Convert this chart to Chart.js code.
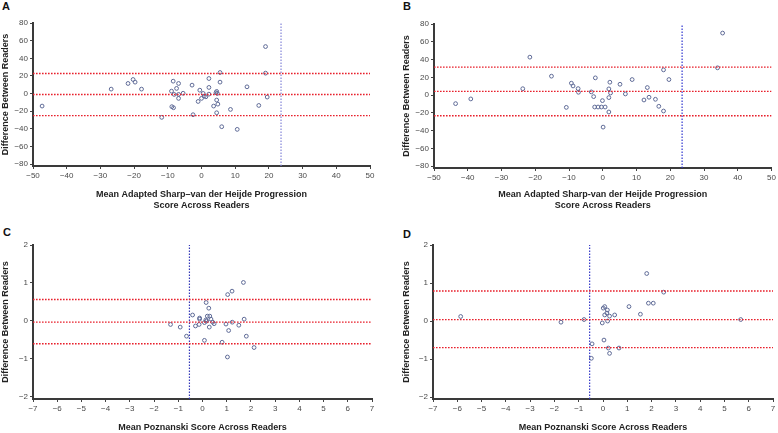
<!DOCTYPE html>
<html>
<head>
<meta charset="utf-8">
<script src="https://cdn.jsdelivr.net/npm/chart.js@4/dist/chart.umd.min.js"></script>
<style>
    body { margin: 0; background: #fff; width: 778px; height: 433px; overflow: hidden; position: relative; }
    .panel { position: absolute; }
    .letter { position: absolute; font: bold 11px "Liberation Sans", Arial, sans-serif; color: #111; }
</style>
</head>
<body>
<div class="letter" style="left:2px; top:0px;">A</div>
<div class="letter" style="left:403px; top:0px;">B</div>
<div class="letter" style="left:3px; top:226px;">C</div>
<div class="letter" style="left:403px; top:228px;">D</div>

<div class="panel" style="left:0; top:0;"><canvas id="chart-a" width="389" height="216"></canvas></div>
<div class="panel" style="left:389px; top:0;"><canvas id="chart-b" width="389" height="216"></canvas></div>
<div class="panel" style="left:0; top:216px;"><canvas id="chart-c" width="389" height="217"></canvas></div>
<div class="panel" style="left:389px; top:216px;"><canvas id="chart-d" width="389" height="217"></canvas></div>

<script>
// Bland-Altman plots: mean score vs difference between readers

// tick labels
const sharpXTicks = [-50, -40, -30, -20, -10, 0, 10, 20, 30, 40, 50];
const sharpYTicks = [-80, -60, -40, -20, 0, 20, 40, 60, 80];
const poznXTicks = [-7, -6, -5, -4, -3, -2, -1, 0, 1, 2, 3, 4, 5, 6, 7];
const poznYTicks = [-2, -1, 0, 1, 2];

// A: adapted Sharp-van der Heijde
const aMean = [-47.3, -26.8, -21.8, -20.3, -19.7, -17.8, -11.8, -8.9, -8.4, -8.8, -8.3, -8.1, -7.4, -6.8, -6.8, -6.8, -5.45,
    -2.8, -2.5, -1.0, -0.5, 0, 0.5, 0.8, 1.3, 2.2, 2.2, 2.2, 3.6, 4.5, 4.3, 4.7, 4.5, 4.85, 4.5, 5.5, 5.5, 6.0, 8.6, 10.6,
    13.5, 17.0, 19.0, 19.0, 19.5];
const aDiff = [-14.1, 5.1, 11.5, 16, 13, 5.1, -26.9, 2.8, 14.1, -14.8, -16, -0.9, 5.9, 11.5, -0.9, -5.4, 0.4,
    9.6, -23.9, -8.9, 3.9, -5.4, 0.2, -2.8, -3.6, 17.1, 7, -0.6, -14.1, 2.5, 1.0, 0.2, -7.3, -11.9, -21.7, 13, 23.9, -37.5, -17.9, -40.5,
    7.7, -13.4, 53.3, 23.2, -3.9];
const aLimits = [22.8, -1.0, -25.0];
const aCutoff = 23.6;

// B: adapted Sharp-van der Heijde, second reader pair
const bMean = [-43.6, -39.1, -23.7, -21.6, -15.2, -10.8, -9.3, -8.8, -7.3, -7.2, -3.4, -2.7, -2.2, -2.4, -1.4, -0.4, 0.7,
    -0.1, 0.1, 1.8, 1.8, 1.8, 2.1, 2.3, 5.1, 6.7, 8.7, 12.2, 13.2, 13.7, 15.6, 16.6, 18.0, 18.0, 19.6, 34.0, 35.5];
const bDiff = [-9.6, -4.3, 7.2, 42.7, 21.3, -13.8, 13.4, 10.3, 7.3, 3.2, 3.6, -1.7, 19.4, -13.4, -13.4, -13.4, -13.4,
    -6.2, -36, -19, -2.8, 7, 14.5, 2.4, 12.2, 1.3, 17.5, -5.5, 8.5, -2.4, -4.7, -12.6, -17.9, 28.4, 17.5, 30.7, 69.8];
const bLimits = [31.4, 4.3, -23.2];
const bCutoff = 23.5;

// C: Poznanski
const cMean = [-1.32, -0.92, -0.66, -0.41, -0.29, -0.14, -0.12, -0.12, 0.08, 0.08, 0.14, 0.15, 0.17, 0.2, 0.26, 0.28,
    0.3, 0.35, 0.42, 0.48, 0.81, 0.97, 1.03, 1.04, 1.08, 1.22, 1.23, 1.50, 1.69, 1.72, 1.81, 2.13];
const cDiff = [-0.10, -0.17, -0.41, 0.15, -0.14, -0.10, 0.07, 0.04, -0.52, -0.05, 0.02, 0.48, -0.01, 0.12, 0.33, -0.17,
    0.12, 0.04, -0.04, -0.08, -0.57, -0.09, -0.96, 0.69, -0.26, 0.78, -0.04, -0.12, 1.01, 0.04, -0.41, -0.71];
const cLimits = [0.56, -0.04, -0.61];
const cCutoff = -0.54;

// D: Poznanski, second reader pair
const dMean = [-5.86, -1.73, -0.78, -0.45, -0.48, -0.03, 0.01, 0.07, 0.07, 0.04, 0.16, 0.18, 0.19, 0.22, 0.27, 0.27,
    0.48, 0.66, 1.07, 1.54, 1.80, 1.87, 2.07, 2.5, 5.67];
const dDiff = [0.12, -0.03, 0.04, -0.6, -0.98, -0.05, 0.34, 0.38, 0.16, -0.5, 0.21, 0.29, 0, -0.71, 0.13, -0.85,
    0.16, -0.71, 0.38, 0.18, 1.25, 0.47, 0.47, 0.76, 0.04];
const dLimits = [0.79, 0.04, -0.70];
const dCutoff = -0.55;

const FONT = '"Liberation Sans", Arial, sans-serif';
const minus = v => (v < 0 ? '\u2212' + Math.abs(v) : String(v));

function makePanel(id, opts) {
    const points = opts.mean.map((m, i) => ({ x: m, y: opts.diff[i] }));
    const xMin = opts.xTicks[0], xMax = opts.xTicks[opts.xTicks.length - 1];
    const yMax = opts.yTicks[opts.yTicks.length - 1];

    const datasets = opts.limits.map(v => ({
        data: [{ x: xMin, y: v }, { x: xMax, y: v }],
        showLine: true,
        borderColor: '#e8202c',
        borderWidth: 1.3,
        borderDash: [1.6, 1.4],
        pointRadius: 0
    }));
    datasets.push({
        data: [{ x: opts.cutoff, y: opts.yMin }, { x: opts.cutoff, y: yMax }],
        showLine: true,
        borderColor: opts.cutColor,
        borderWidth: 1.2,
        borderDash: [1.6, 1.4],
        pointRadius: 0
    });
    datasets.push({
        data: points,
        pointRadius: 1.9,
        pointBorderWidth: 1,
        pointBorderColor: '#5e6a96',
        pointBackgroundColor: 'rgba(255,255,255,0)'
    });

    new Chart(document.getElementById(id), {
        type: 'scatter',
        data: { datasets },
        options: {
            responsive: false,
            animation: false,
            devicePixelRatio: 1,
            layout: { padding: opts.padding },
            plugins: { legend: { display: false }, tooltip: { enabled: false } },
            scales: {
                x: {
                    type: 'linear',
                    min: xMin,
                    max: xMax,
                    afterBuildTicks: s => { s.ticks = opts.xTicks.map(v => ({ value: v })); },
                    afterFit: s => { s.height = opts.xHeight; },
                    grid: { drawOnChartArea: false, drawTicks: true, tickLength: 3, tickColor: '#444', tickWidth: 1 },
                    border: { display: true, color: '#3a3a3a', width: 2 },
                    ticks: { color: '#4a4a4a', font: { family: FONT, size: 8 }, padding: 2, maxRotation: 0, autoSkip: false, callback: v => minus(v) },
                    title: {
                        display: true,
                        text: opts.xTitle,
                        color: '#222',
                        font: { family: FONT, size: 9, weight: 'bold', lineHeight: 1.27 },
                        padding: { top: 0, bottom: opts.xTitlePad }
                    }
                },
                y: {
                    type: 'linear',
                    min: opts.yMin,
                    max: yMax,
                    afterBuildTicks: s => { s.ticks = opts.yTicks.map(v => ({ value: v })); },
                    afterFit: s => { s.width = opts.yWidth; },
                    grid: { drawOnChartArea: false, drawTicks: true, tickLength: 3, tickColor: '#444', tickWidth: 1 },
                    border: { display: true, color: '#3a3a3a', width: 2 },
                    ticks: { color: '#4a4a4a', font: { family: FONT, size: 8 }, padding: 2, callback: v => minus(v) },
                    title: {
                        display: true,
                        text: 'Difference Between Readers',
                        color: '#222',
                        font: { family: FONT, size: 9, weight: 'bold', lineHeight: 1.2 },
                        padding: { top: 0, bottom: 0 }
                    }
                }
            }
        }
    });
}

makePanel('chart-a', {
    mean: aMean, diff: aDiff, limits: aLimits, cutoff: aCutoff, cutColor: '#8486d8',
    xTicks: sharpXTicks, yTicks: sharpYTicks, yMin: -82,
    xTitle: ['Mean Adapted Sharp\u2013van der Heijde Progression', 'Score Across Readers'], xTitlePad: 4.6,
    padding: { top: 23, right: 19, left: 0, bottom: 0 }, yWidth: 33, xHeight: 50
});
makePanel('chart-b', {
    mean: bMean, diff: bDiff, limits: bLimits, cutoff: bCutoff, cutColor: '#2f35d0',
    xTicks: sharpXTicks, yTicks: sharpYTicks, yMin: -82,
    xTitle: ['Mean Adapted Sharp-van der Heijde Progression', 'Score Across Readers'], xTitlePad: 4.6,
    padding: { top: 24, right: 6, left: 12, bottom: 0 }, yWidth: 33, xHeight: 48
});
makePanel('chart-c', {
    mean: cMean, diff: cDiff, limits: cLimits, cutoff: cCutoff, cutColor: '#3438b8',
    xTicks: poznXTicks, yTicks: poznYTicks, yMin: -2.07,
    xTitle: 'Mean Poznanski Score Across Readers', xTitlePad: 0,
    padding: { top: 29, right: 17, left: 0, bottom: 0 }, yWidth: 33, xHeight: 34
});
makePanel('chart-d', {
    mean: dMean, diff: dDiff, limits: dLimits, cutoff: dCutoff, cutColor: '#3438c8',
    xTicks: poznXTicks, yTicks: poznYTicks, yMin: -2.05,
    xTitle: 'Mean Poznanski Score Across Readers', xTitlePad: 0,
    padding: { top: 29, right: 5, left: 12, bottom: 0 }, yWidth: 32, xHeight: 34
});
</script>
</body>
</html>
